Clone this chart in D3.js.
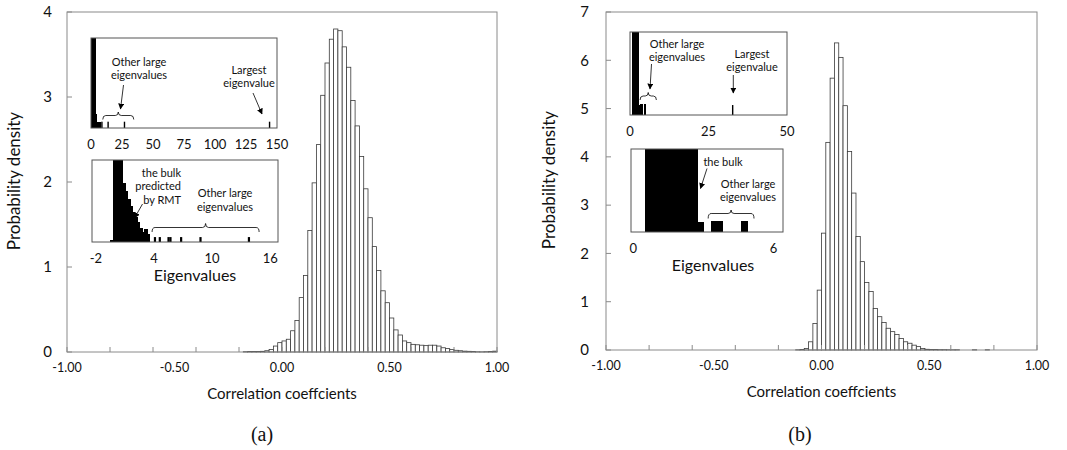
<!DOCTYPE html>
<html>
<head>
<meta charset="utf-8">
<script src="https://cdn.jsdelivr.net/npm/d3@7"></script>
<style>
  body { margin: 0; background: #fff; }
  text { font-family: Lato, "Open Sans", sans-serif; fill: #111; }
</style>
</head>
<body>
<script>
// ---- data ----
// panel (a): histogram of correlation coefficients, bins of 0.02 from -0.18
const binWidth = 0.02;
const aStart = -0.18;
const aDensity = [0.004, 0.005, 0.005, 0.006, 0.008, 0.015, 0.03, 0.07, 0.11, 0.13,
  0.15, 0.25, 0.37, 0.64, 0.90, 1.43, 1.99, 2.44, 3.02, 3.40,
  3.68, 3.80, 3.78, 3.59, 3.35, 2.96, 2.66, 2.30, 1.92, 1.58,
  1.24, 0.96, 0.72, 0.58, 0.40, 0.26, 0.20, 0.13, 0.11, 0.09,
  0.085, 0.08, 0.075, 0.08, 0.08, 0.07, 0.05, 0.04, 0.03, 0.02,
  0.015, 0.01, 0.008, 0.005, 0.003, 0.002, 0.004, 0.005, 0.01];

// panel (b): bins of 0.02 from -0.12
const bStart = -0.12;
const bDensity = [0.005, 0.01, 0.03, 0.17, 0.55, 1.24, 2.42, 4.30, 5.63, 6.36,
  6.06, 5.06, 4.11, 3.25, 2.35, 1.83, 1.40, 1.21, 0.86, 0.69,
  0.57, 0.45, 0.38, 0.32, 0.24, 0.17, 0.14, 0.10, 0.07, 0.03,
  0.015, 0.01, 0.01, 0.008, 0.008, 0.006, 0.005, 0.006, 0, 0,
  0, 0.006, 0, 0, 0.006];

const xTickLabels = [-1, -0.5, 0, 0.5, 1];

// eigenvalue insets (heights relative to the inset frame, >1 is cut off)
const aTopBinStart = 0, aTopBinW = 1.5;
const aTopBins = [1.6, 1.6, 0.16, 0.07, 0.07];
const aLargeEig = [8.8, 13.8, 27, 144];
const aLargeH = 0.07;
const aTopTicks = [0, 25, 50, 75, 100, 125, 150];

const aBulkStart = -0.5, aBulkW = 0.25;
const aBulk = [0.03, 1.6, 1.6, 1.6, 1.6, 0.72, 0.62, 0.52, 0.44, 0.36, 0.30, 0.24, 0.17, 0.12, 0.16, 0.10];
const aOtherEig = [4.1, 4.6, 5.5, 5.7, 6.8, 8.8, 13.8];
const aOtherH = 0.06;
const aBulkTicks = [-2, 4, 10, 16];

const bBinW = 0.25;
const bBinStarts = [0.5, 0.75, 1.0, 1.25, 1.5, 1.75, 2.0, 2.25, 2.5, 2.75, 3.3, 3.55, 4.6];
const bBinVals = [1.5, 1.5, 1.5, 1.5, 1.5, 1.5, 1.5, 1.5, 1.5, 0.12, 0.13, 0.13, 0.13];
const bLargest = 32.7;
const bLargestH = 0.12;
const bTopTicks = [0, 25, 50];
const bBulkTicks = [0, 6];

// ---- drawing ----
const svg = d3.select('body').append('svg')
  .attr('width', 1067).attr('height', 450);

svg.append('defs').append('marker')
  .attr('id', 'arr')
  .attr('viewBox', '0 0 10 10')
  .attr('refX', 9).attr('refY', 5)
  .attr('markerWidth', 6).attr('markerHeight', 6)
  .attr('markerUnits', 'userSpaceOnUse')
  .attr('orient', 'auto')
  .append('path').attr('d', 'M0,0 L10,5 L0,10 z').attr('fill', '#000');

function drawPanel(p) {
  const x = d3.scaleLinear().domain([-1, 1]).range([p.left, p.right]);
  const y = d3.scaleLinear().domain([0, p.yMax]).range([p.bottom, p.top]);
  const g = svg.append('g');

  // bars
  g.selectAll('rect.bar')
    .data(p.values)
    .enter().append('rect')
    .attr('class', 'bar')
    .attr('x', (d, i) => x(p.start + i * binWidth))
    .attr('width', x(binWidth) - x(0))
    .attr('y', d => y(d))
    .attr('height', d => p.bottom - y(d))
    .attr('fill', '#fff')
    .attr('stroke', '#3a3a3a')
    .attr('stroke-width', 0.8);

  // frame
  g.append('rect')
    .attr('x', p.left).attr('y', p.top)
    .attr('width', p.right - p.left).attr('height', p.bottom - p.top)
    .attr('fill', 'none').attr('stroke', '#8a8a8a').attr('stroke-width', 1);

  // x ticks every 0.2, pointing inward
  g.selectAll('line.xt')
    .data(d3.range(-1, 1.0001, 0.2))
    .enter().append('line')
    .attr('x1', d => x(d)).attr('x2', d => x(d))
    .attr('y1', p.bottom).attr('y2', p.bottom - 5)
    .attr('stroke', '#8a8a8a');

  g.selectAll('text.xl')
    .data(xTickLabels)
    .enter().append('text')
    .attr('x', d => x(d)).attr('y', p.bottom + 20)
    .attr('text-anchor', 'middle')
    .attr('font-size', 12.5)
    .text(d => d.toFixed(2));

  // y ticks
  const yTicks = d3.range(0, p.yMax + 1);
  g.selectAll('line.yt')
    .data(yTicks)
    .enter().append('line')
    .attr('x1', p.left).attr('x2', p.left + 5)
    .attr('y1', d => y(d)).attr('y2', d => y(d))
    .attr('stroke', '#8a8a8a');

  g.selectAll('text.yl')
    .data(yTicks)
    .enter().append('text')
    .attr('x', p.left - p.labelGap).attr('y', d => y(d))
    .attr('dy', '0.35em')
    .attr('text-anchor', 'end')
    .attr('font-size', 15)
    .text(d => d);

  g.append('text')
    .attr('transform', `translate(${p.yTitleX},${p.yTitleY}) rotate(-90)`)
    .attr('text-anchor', 'middle')
    .attr('font-size', 17)
    .text('Probability density');

  g.append('text')
    .attr('x', x(0)).attr('y', p.bottom + 47)
    .attr('text-anchor', 'middle')
    .attr('font-size', 15)
    .text('Correlation coeffcients');

  g.append('text')
    .attr('x', p.capX).attr('y', 441)
    .attr('text-anchor', 'middle')
    .attr('font-size', 20)
    .style('font-family', '"Liberation Serif", "DejaVu Serif", serif')
    .text(p.caption);
}

// inset with eigenvalue histogram
function inset(f) {
  const x = d3.scaleLinear().domain(f.domain).range([f.left, f.right]);
  const y = d3.scaleLinear().domain([0, 1]).range([f.bottom, f.top]).clamp(true);
  const g = svg.append('g');
  g.append('rect')
    .attr('x', f.left).attr('y', f.top)
    .attr('width', f.right - f.left).attr('height', f.bottom - f.top)
    .attr('fill', '#fff');
  g.selectAll('text.t')
    .data(f.ticks)
    .enter().append('text')
    .attr('x', d => x(d)).attr('y', f.bottom + 16)
    .attr('dy', '0.35em')
    .attr('text-anchor', 'middle')
    .attr('font-size', 13)
    .text(d => d);
  return { g, x, y };
}

// filled black bins; each overlaps its neighbour slightly so no seams show
function blackBars(ins, starts, w, vals, minW) {
  ins.g.selectAll(null)
    .data(starts)
    .enter().append('rect')
    .attr('x', d => ins.x(d))
    .attr('width', d => Math.max(minW, ins.x(d + w) - ins.x(d) + 0.8))
    .attr('y', (d, i) => ins.y(vals[i]))
    .attr('height', (d, i) => ins.y(0) - ins.y(vals[i]))
    .attr('fill', '#000')
    .attr('shape-rendering', 'crispEdges');
}

function spikes(ins, eig, h, w) {
  ins.g.selectAll(null)
    .data(eig)
    .enter().append('rect')
    .attr('x', d => ins.x(d) - w / 2)
    .attr('width', w)
    .attr('y', ins.y(h))
    .attr('height', ins.y(0) - ins.y(h))
    .attr('fill', '#000');
}

function frameOf(ins, f) {
  ins.g.append('rect')
    .attr('x', f.left).attr('y', f.top)
    .attr('width', f.right - f.left).attr('height', f.bottom - f.top)
    .attr('fill', 'none').attr('stroke', '#555').attr('stroke-width', 1);
}

function label(lines, cx, cy, anchor) {
  lines.forEach((t, i) => {
    svg.append('text')
      .attr('x', cx).attr('y', cy + i * 13.5)
      .attr('dy', '0.35em')
      .attr('text-anchor', anchor || 'middle')
      .attr('font-size', 11)
      .text(t);
  });
}

function arrow(x1, y1, x2, y2) {
  svg.append('line')
    .attr('x1', x1).attr('y1', y1).attr('x2', x2).attr('y2', y2)
    .attr('stroke', '#000').attr('stroke-width', 0.8)
    .attr('marker-end', 'url(#arr)');
}

function brace(xa, xb, yEnd, yTop, yTip) {
  const xc = (xa + xb) / 2;
  const p = d3.path();
  p.moveTo(xa, yEnd);
  p.quadraticCurveTo(xa, yTop, xa + 3, yTop);
  p.lineTo(xc - 3, yTop);
  p.quadraticCurveTo(xc, yTop, xc, yTip);
  p.quadraticCurveTo(xc, yTop, xc + 3, yTop);
  p.lineTo(xb - 3, yTop);
  p.quadraticCurveTo(xb, yTop, xb, yEnd);
  svg.append('path').attr('d', p.toString())
    .attr('fill', 'none').attr('stroke', '#000').attr('stroke-width', 0.8);
}

// ---- panel (a) ----
drawPanel({ left: 67, right: 497, top: 12, bottom: 352, yMax: 4, values: aDensity, start: aStart,
  labelGap: 15, yTitleX: 20, yTitleY: 181, caption: '(a)', capX: 262 });

const fA1 = { left: 91, right: 277, top: 38, bottom: 128, domain: [0, 150], ticks: aTopTicks };
const a1 = inset(fA1);
blackBars(a1, aTopBins.map((d, i) => aTopBinStart + i * aTopBinW), aTopBinW, aTopBins, 1);
spikes(a1, aLargeEig, aLargeH, 1.4);
frameOf(a1, fA1);
label(['Other large', 'eigenvalues'], 139, 62);
arrow(123.5, 85, 120.5, 109);
brace(a1.x(9.5), a1.x(34.5), 119.5, 115.5, 112);
label(['Largest', 'eigenvalue'], 249, 70);
arrow(253, 93, 262, 114);

const fA2 = { left: 92, right: 278, top: 160, bottom: 242, domain: [-2.4, 16.8], ticks: aBulkTicks };
const a2 = inset(fA2);
blackBars(a2, aBulk.map((d, i) => aBulkStart + i * aBulkW), aBulkW, aBulk, 1);
spikes(a2, aOtherEig, aOtherH, 2.2);
frameOf(a2, fA2);
svg.append('text').attr('x', 195).attr('y', 275).attr('dy', '0.35em')
  .attr('text-anchor', 'middle').attr('font-size', 16).text('Eigenvalues');
label(['the bulk', 'predicted', 'by RMT'], 181, 173, 'end');
arrow(142.5, 204, 134.5, 218);
label(['Other large', 'eigenvalues'], 225, 193.5);
brace(a2.x(3.8), a2.x(14.85), 232, 227.5, 223.5);

// ---- panel (b) ----
drawPanel({ left: 606, right: 1037, top: 12, bottom: 350, yMax: 7, values: bDensity, start: bStart,
  labelGap: 17, yTitleX: 555, yTitleY: 180, caption: '(b)', capX: 800 });

const fB1 = { left: 630, right: 787, top: 32, bottom: 115, domain: [0, 50], ticks: bTopTicks };
const b1 = inset(fB1);
blackBars(b1, bBinStarts, bBinW, bBinVals, 1.2);
spikes(b1, [bLargest], bLargestH, 1.4);
frameOf(b1, fB1);
label(['Other large', 'eigenvalues'], 677, 44);
arrow(651.5, 64, 650, 89);
brace(b1.x(3.2), b1.x(8.4), 100, 96, 92.5);
label(['Largest', 'eigenvalue'], 752, 54);
arrow(733.3, 75, 733.3, 93);

const fB2 = { left: 631, right: 783, top: 149, bottom: 232, domain: [-0.1, 6.4], ticks: bBulkTicks };
const b2 = inset(fB2);
blackBars(b2, bBinStarts, bBinW, bBinVals, 1);
frameOf(b2, fB2);
svg.append('text').attr('x', 713).attr('y', 265).attr('dy', '0.35em')
  .attr('text-anchor', 'middle').attr('font-size', 16).text('Eigenvalues');
label(['the bulk'], 723, 162);
arrow(707, 168.5, 700.5, 188.5);
label(['Other large', 'eigenvalues'], 748, 184);
brace(b2.x(3.2), b2.x(5.16), 218.5, 213.5, 210);
</script>
</body>
</html>
